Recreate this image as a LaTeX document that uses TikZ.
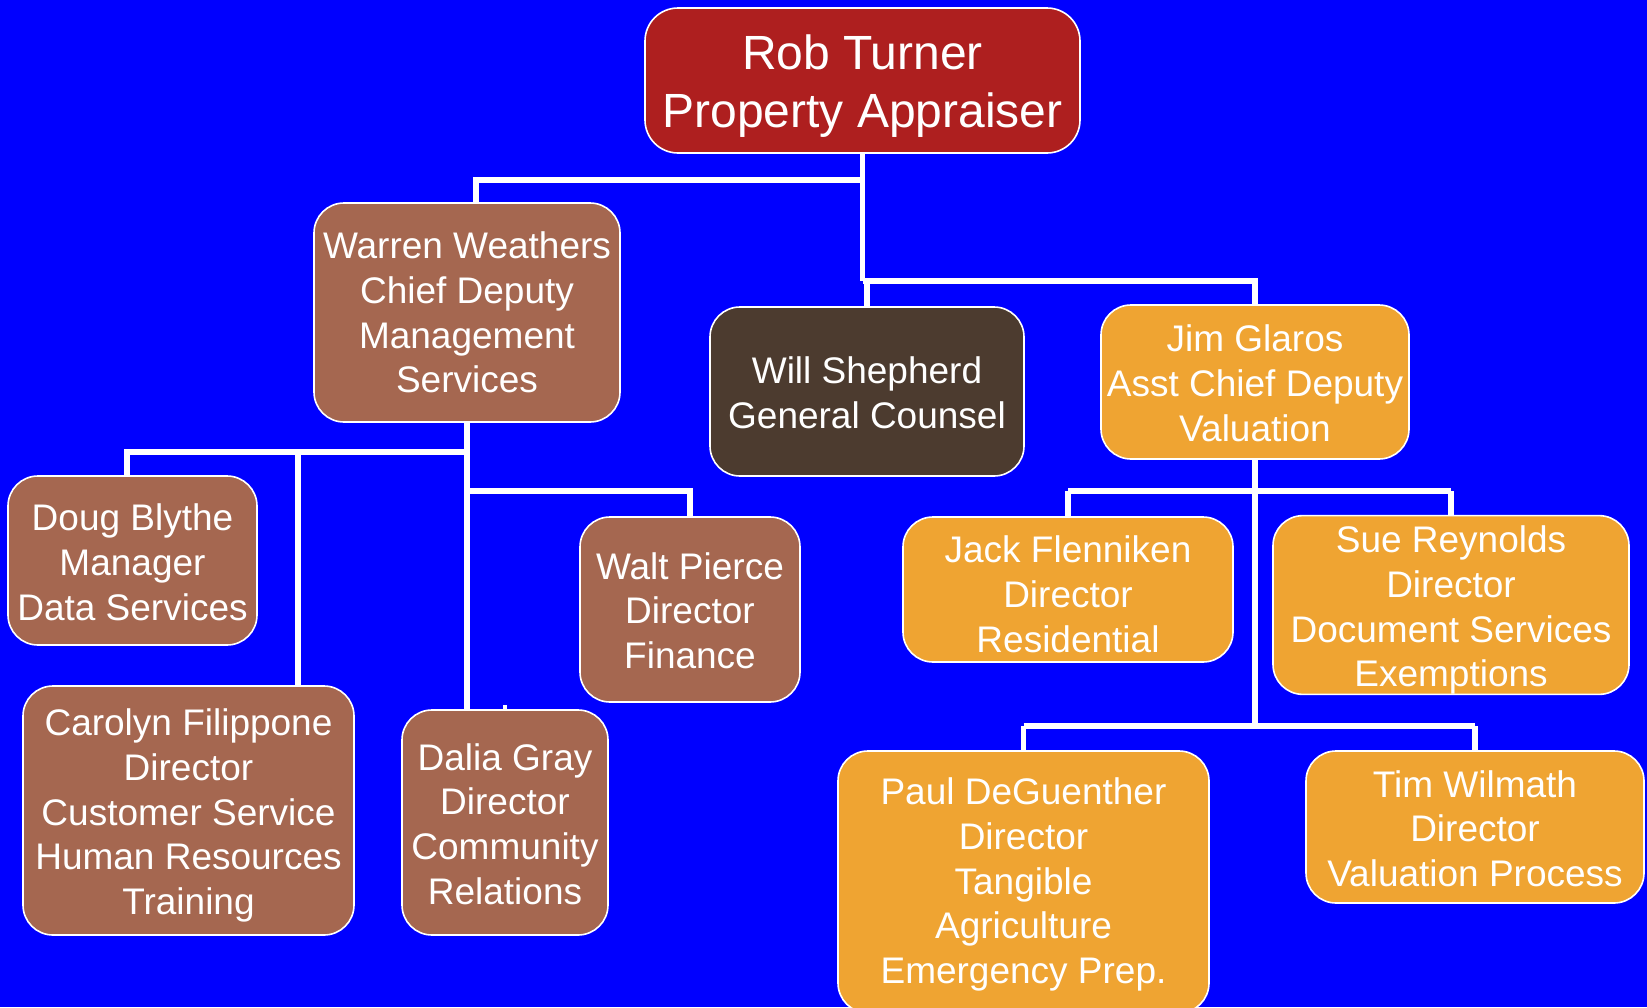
\documentclass[tikz,border=0pt]{standalone}
\usepackage{fontspec}
\setmainfont{Liberation Sans}
\definecolor{bgblue}{RGB}{0,0,255}
\definecolor{robred}{RGB}{174,31,31}
\definecolor{boxbrown}{RGB}{165,103,80}
\definecolor{darkbrown}{RGB}{76,59,47}
\definecolor{boxorange}{RGB}{239,164,50}
\newcommand\topstrut[1]{\rule{0pt}{#1}}
\tikzset{
  orgbox/.style={draw=white, line width=1.6pt, rounded corners=30pt, inner sep=0pt,
    align=center, text=white, font=\fontsize{37}{44.7}\selectfont},
  brownbox/.style={orgbox, fill=boxbrown},
  orangebox/.style={orgbox, fill=boxorange},
  conn/.style={draw=white, line width=5.5pt}
}
\begin{document}
\begin{tikzpicture}[x=1pt,y=-1pt]
\fill[bgblue] (0,0) rectangle (1647,1007);
\useasboundingbox (0,0) rectangle (1647,1007);

\coordinate (j0) at (862.5,180);
\coordinate (j1) at (862.5,281);
\coordinate (w0) at (466,452);
\coordinate (w1) at (466,491);
\coordinate (g1) at (1255,726);

% nodes
\node[orgbox, fill=robred, rounded corners=33pt, minimum width=435pt, minimum height=145pt,
  font=\fontsize{48}{58}\selectfont] (rob) at (862.5,80.5) {\topstrut{46pt}Rob Turner\\Property Appraiser};
\node[brownbox, minimum width=306pt, minimum height=219pt] (warren) at (467,312.5)
  {\topstrut{27pt}Warren Weathers\\Chief Deputy\\Management\\Services};
\node[orgbox, fill=darkbrown, minimum width=314pt, minimum height=169pt] (will) at (867,391.5)
  {\topstrut{30pt}Will Shepherd\\General Counsel};
\node[orangebox, minimum width=308pt, minimum height=154pt] (jim) at (1255,382)
  {\topstrut{29pt}Jim Glaros\\Asst Chief Deputy\\Valuation};
\node[brownbox, minimum width=249pt, minimum height=169pt] (doug) at (132.5,560.5)
  {\topstrut{30pt}Doug Blythe\\Manager\\Data Services};
\node[brownbox, minimum width=331pt, minimum height=249pt] (carolyn) at (188.5,810.5)
  {\topstrut{37pt}Carolyn Filippone\\Director\\Customer Service\\Human Resources\\Training};
\node[brownbox, minimum width=206pt, minimum height=225pt] (dalia) at (505,822.5)
  {\topstrut{30pt}Dalia Gray\\Director\\Community\\Relations};
\node[brownbox, minimum width=220pt, minimum height=185pt] (walt) at (690,609.5)
  {\topstrut{29pt}Walt Pierce\\Director\\Finance};
\node[orangebox, minimum width=330pt, minimum height=145pt] (jack) at (1068,589.5)
  {\topstrut{36pt}Jack Flenniken\\Director\\Residential};
\node[orangebox, minimum width=356pt, minimum height=176pt] (sue) at (1451,605)
  {\topstrut{37pt}Sue Reynolds\\Director\\Document Services\\Exemptions};
\node[orangebox, minimum width=371pt, minimum height=262pt] (paul) at (1023.5,882)
  {\topstrut{32pt}Paul DeGuenther\\Director\\Tangible\\Agriculture\\Emergency Prep.};
\node[orangebox, minimum width=338pt, minimum height=152pt] (tim) at (1475,827)
  {\topstrut{30pt}Tim Wilmath\\Director\\Valuation Process};

% connector lines
\draw[conn] (rob.south) -- (j0) -- (j1);
\draw[conn] (j0) -- (476,180) -- (476,0 |- warren.north);
\draw[conn] (j1) -- (1255,281) -- (jim.north);
\draw[conn] (will.north |- j1) -- (will.north);
\draw[conn] (warren.south) -- (warren.south |- dalia.north);
\draw[conn] (w0) -- (127,452) -- (127,0 |- doug.north);
\draw[conn] (298,452) -- (298,0 |- carolyn.north);
\draw[conn] (w1) -- (690,491) -- (walt.north);
\draw[draw=white, line width=4pt] (dalia.north) -- ++(0,-4);
\draw[conn] (jim.south) -- (g1);
\draw[conn] (1068,491) -- (1451,491);
\draw[conn] (1068,491) -- (jack.north);
\draw[conn] (1451,491) -- (sue.north);
\draw[conn] (1023.5,726) -- (1475,726);
\draw[conn] (1023.5,726) -- (paul.north);
\draw[conn] (1475,726) -- (tim.north);
\end{tikzpicture}
\end{document}
